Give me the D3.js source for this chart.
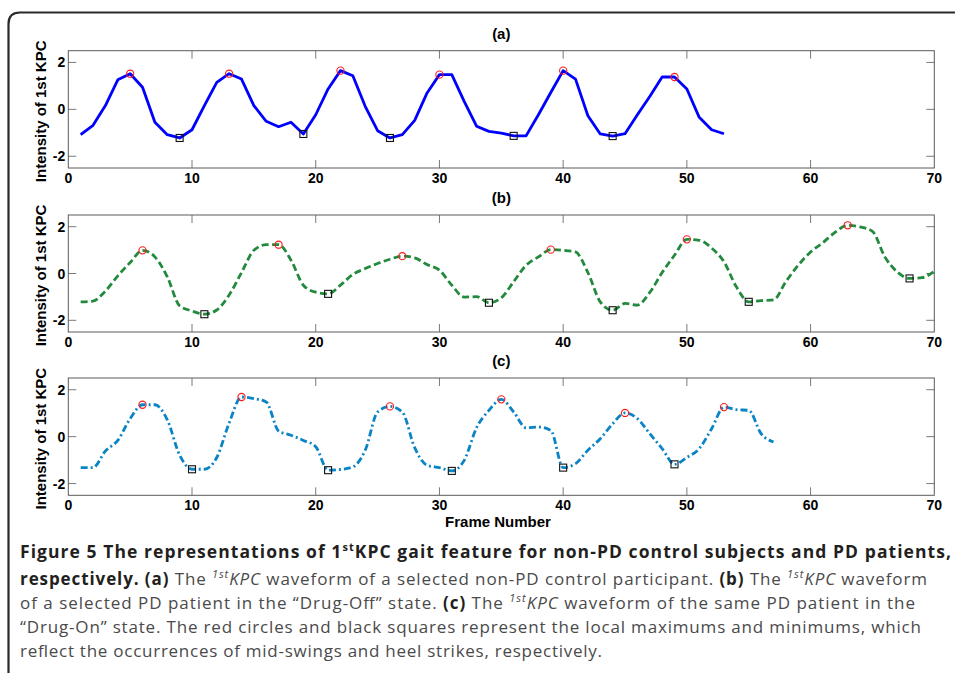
<!DOCTYPE html>
<html><head><meta charset="utf-8">
<script src="https://cdnjs.cloudflare.com/ajax/libs/d3/7.8.5/d3.min.js"></script>
<style>body{margin:0;background:#fff}svg{display:block}</style>
</head><body>
<svg id="chart" width="955" height="673"></svg>
<script>
// ---------------- data ----------------
const xTicks = [0, 10, 20, 30, 40, 50, 60, 70];
const yTicks = [-2, 0, 2];
const panelTitles = ["(a)", "(b)", "(c)"];

// (a) non-PD control, frames 1..53
const valuesA = [-1.08,-0.68,0.16,1.26,1.52,0.94,-0.55,-1.08,-1.22,-0.87,
  0.16,1.15,1.52,1.29,0.16,-0.51,-0.74,-0.55,-1.05,-0.23,
  0.87,1.65,1.43,0.13,-0.91,-1.22,-1.08,-0.47,0.70,1.48,
  1.48,0.34,-0.72,-0.94,-1.01,-1.13,-1.13,-0.23,0.72,1.65,
  1.29,-0.27,-1.05,-1.14,-1.04,-0.23,0.55,1.38,1.38,0.87,
  -0.34,-0.87,-1.04];
const peaksA = [5, 13, 22, 30, 40, 49];
const valleysA = [9, 19, 26, 36, 44];

// (b) PD "Drug-Off", frames 1..70
const valuesB = [-1.21,-1.18,-0.75,-0.10,0.47,0.99,0.71,-0.14,-1.38,-1.60,
  -1.74,-1.56,-0.92,0.04,0.99,1.23,1.23,0.57,-0.50,-0.80,
  -0.87,-0.50,-0.04,0.21,0.43,0.61,0.74,0.67,0.38,0.14,
  -0.50,-1.01,-0.99,-1.25,-1.04,-0.35,0.35,0.71,1.02,0.99,
  0.92,0.04,-1.21,-1.57,-1.28,-1.35,-0.81,0.04,0.78,1.46,
  1.42,1.09,0.50,-0.57,-1.21,-1.16,-1.13,-0.35,0.35,0.92,
  1.32,1.77,2.06,1.99,1.80,0.71,0.07,-0.21,-0.18,0.10];
const peaksB = [6, 17, 27, 39, 50, 63];
const valleysB = [11, 21, 34, 44, 55, 68];

// (c) PD "Drug-On", frames 1..57
const valuesC = [-1.32,-1.32,-0.61,-0.16,0.77,1.36,1.36,0.72,-0.79,-1.39,
  -1.39,-0.89,0.58,1.69,1.62,1.48,0.24,0.06,-0.16,-0.43,
  -1.43,-1.40,-1.29,-0.58,1.05,1.29,1.05,-0.47,-1.22,-1.32,
  -1.46,-1.01,0.38,1.12,1.59,1.05,0.38,0.41,0.27,-1.32,
  -1.15,-0.58,-0.09,0.55,1.01,0.77,0.13,-0.51,-1.18,-0.89,
  -0.51,0.34,1.26,1.15,1.12,0.13,-0.23];
const peaksC = [6, 14, 26, 35, 45, 53];
const valleysC = [10, 21, 31, 40, 49];

// ---------------- layout ----------------
const svg = d3.select("#chart");
const x = d3.scaleLinear().domain([0, 70]).range([68.3, 934.3]);
const panels = [
  {top: 50.7, bottom: 168, vals: valuesA, pk: peaksA, vl: valleysA, color: "#0000ff", dash: null, curve: d3.curveLinear},
  {top: 215, bottom: 332, vals: valuesB, pk: peaksB, vl: valleysB, color: "#228a3c", dash: "7,3.5", curve: d3.curveMonotoneX},
  {top: 378, bottom: 495.3, vals: valuesC, pk: peaksC, vl: valleysC, color: "#0a84c6", dash: "7,3,2,3", curve: d3.curveMonotoneX}
];

// outer frame (rounded top-left corner)
svg.append("path")
  .attr("d", "M8.5,673 L8.5,24 Q8.5,12.5 20,12.5 L955,12.5")
  .attr("fill", "none").attr("stroke", "#2a2a2a").attr("stroke-width", 2.2);

const tickFont = "'Liberation Sans', Arial, sans-serif";

panels.forEach((p, i) => {
  const y = d3.scaleLinear().domain([-2.5, 2.5]).range([p.bottom, p.top]);
  const g = svg.append("g");

  // ticks inside on all four sides
  const tl = 8;
  const tg = g.append("g").attr("stroke", "#7a7a7a").attr("stroke-width", 1);
  xTicks.slice(1, -1).forEach(t => {
    tg.append("line").attr("x1", x(t)).attr("x2", x(t)).attr("y1", p.bottom).attr("y2", p.bottom - tl);
    tg.append("line").attr("x1", x(t)).attr("x2", x(t)).attr("y1", p.top).attr("y2", p.top + tl);
  });
  yTicks.forEach(t => {
    tg.append("line").attr("x1", x(0)).attr("x2", x(0) + tl).attr("y1", y(t)).attr("y2", y(t));
    tg.append("line").attr("x1", x(70)).attr("x2", x(70) - tl).attr("y1", y(t)).attr("y2", y(t));
  });
  // box
  g.append("rect").attr("x", x(0)).attr("y", p.top)
    .attr("width", x(70) - x(0)).attr("height", p.bottom - p.top)
    .attr("fill", "none").attr("stroke", "#5a5a5a").attr("stroke-width", 1);

  // tick labels
  xTicks.forEach(t => {
    g.append("text").attr("x", x(t)).attr("y", p.bottom + 15)
      .attr("text-anchor", "middle").attr("font-family", tickFont)
      .attr("font-weight", "bold").attr("font-size", 14).attr("fill", "#000").text(t);
  });
  yTicks.forEach(t => {
    g.append("text").attr("x", x(0) - 3).attr("y", y(t)).attr("dy", "0.36em")
      .attr("text-anchor", "end").attr("font-family", tickFont)
      .attr("font-weight", "bold").attr("font-size", 14).attr("fill", "#000").text(t);
  });

  // panel title
  g.append("text").attr("x", (x(0) + x(70)) / 2).attr("y", p.top - 12)
    .attr("text-anchor", "middle").attr("font-family", tickFont)
    .attr("font-weight", "bold").attr("font-size", 15).attr("fill", "#000").text(panelTitles[i]);

  // y label
  const cy = (p.top + p.bottom) / 2 + 2;
  g.append("text").attr("transform", `translate(41,${cy}) rotate(-90)`)
    .attr("dy", "0.36em").attr("text-anchor", "middle").attr("font-family", tickFont)
    .attr("font-weight", "bold").attr("font-size", 15).attr("fill", "#000")
    .text("Intensity of 1st KPC");

  // line
  const pts = p.vals.map((v, k) => [k + 1, v]);
  const line = d3.line().x(d => x(d[0])).y(d => y(d[1])).curve(p.curve);
  const path = g.append("path").datum(pts).attr("d", line)
    .attr("fill", "none").attr("stroke", p.color).attr("stroke-width", 2.8)
    .attr("stroke-linejoin", "round");
  if (p.dash) path.attr("stroke-dasharray", p.dash);

  // markers
  g.selectAll(null).data(p.pk).enter().append("circle")
    .attr("cx", d => x(d)).attr("cy", d => y(p.vals[d - 1])).attr("r", 3.6)
    .attr("fill", "none").attr("stroke", "#ff1a1a").attr("stroke-width", 1.1);
  g.selectAll(null).data(p.vl).enter().append("rect")
    .attr("x", d => x(d) - 3.5).attr("y", d => y(p.vals[d - 1]) - 3.5)
    .attr("width", 7).attr("height", 7)
    .attr("fill", "none").attr("stroke", "#111").attr("stroke-width", 1.1);
});

// x label
svg.append("text").attr("x", 498).attr("y", 527).attr("text-anchor", "middle")
  .attr("font-family", tickFont).attr("font-weight", "bold").attr("font-size", 15)
  .attr("fill", "#000").text("Frame Number");

// ---------------- caption ----------------
const capFont = "'Open Sans', 'Noto Sans', sans-serif";
const dark = "#231f20", grey = "#4a4a4a";
const B = (t) => ({t, w: "bold", c: dark});
const R = (t) => ({t, c: grey});
const I = (t) => ({t, c: grey, it: true});
const S = (t, c, w) => ({t, sup: true, it: true, c: c || grey, w});
const captionLines = [
  {y: 557.5, len: 931, parts: [B("Figure 5 The representations of 1"), {t: "st", sup: true, w: "bold", c: dark}, B("KPC gait feature for non-PD control subjects and PD patients,")]},
  {y: 585, len: 907, parts: [B("respectively. (a)"), R(" The "), S("1st"), I("KPC"), R(" waveform of a selected non-PD control participant. "), B("(b)"), R(" The "), S("1st"), I("KPC"), R(" waveform")]},
  {y: 609.3, len: 895, parts: [R("of a selected PD patient in the \u201cDrug-Off\u201d state. "), B("(c)"), R(" The "), S("1st"), I("KPC"), R(" waveform of the same PD patient in the")]},
  {y: 633.3, len: 901, parts: [R("\u201cDrug-On\u201d state. The red circles and black squares represent the local maximums and minimums, which")]},
  {y: 657.3, len: 582, parts: [R("reflect the occurrences of mid-swings and heel strikes, respectively.")]}
];
captionLines.forEach((ln, li) => {
  const t = svg.append("text").attr("x", 20).attr("y", ln.y)
    .attr("font-family", capFont).attr("font-size", li === 0 ? 17.5 : 17)
    .attr("textLength", ln.len).attr("lengthAdjust", "spacing");
  let raised = false;
  ln.parts.forEach(pt => {
    const s = t.append("tspan").text(pt.t).attr("fill", pt.c);
    if (pt.w) s.attr("font-weight", pt.w);
    if (pt.it) s.attr("font-style", "italic");
    if (pt.sup) { s.attr("font-size", 11).attr("dy", -7); raised = true; }
    else if (raised) { s.attr("dy", 7); raised = false; }
  });
});
</script>
</body></html>
